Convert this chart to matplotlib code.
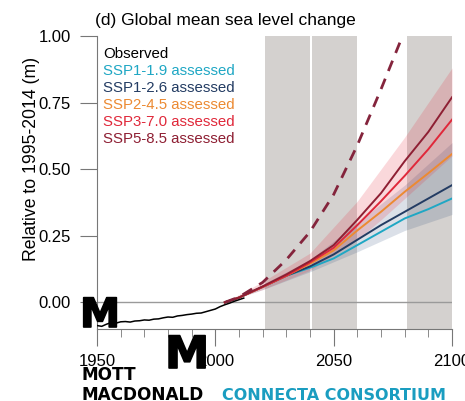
import numpy as np
import matplotlib.pyplot as plt
import matplotlib.patheffects as pe

# observed GMSL (m, relative to 1995-2014)
obs_years = np.arange(1950, 2013, 2)
obs_vals = np.array([
    -0.087, -0.090, -0.082, -0.076, -0.078, -0.073, -0.072, -0.074, -0.070, -0.069,
    -0.066, -0.067, -0.063, -0.062, -0.058, -0.055, -0.056, -0.051, -0.049, -0.046,
    -0.044, -0.041, -0.040, -0.035, -0.030, -0.025, -0.016, -0.009, -0.003, 0.004,
    0.010, 0.016,
])

# assessed projections (medians)
proj_years = np.array([2004, 2010, 2020, 2030, 2040, 2050, 2060, 2070, 2080, 2090, 2100])
ssp119 = np.array([0, 0.018, 0.058, 0.10, 0.130, 0.165, 0.215, 0.265, 0.315, 0.350, 0.390])
ssp126 = np.array([0, 0.018, 0.058, 0.10, 0.135, 0.180, 0.235, 0.290, 0.340, 0.390, 0.440])
ssp245 = np.array([0, 0.018, 0.058, 0.10, 0.145, 0.195, 0.270, 0.340, 0.415, 0.485, 0.557])
ssp370 = np.array([0, 0.018, 0.058, 0.10, 0.150, 0.205, 0.290, 0.380, 0.475, 0.575, 0.686])
ssp585 = np.array([0, 0.018, 0.060, 0.105, 0.155, 0.215, 0.310, 0.410, 0.530, 0.640, 0.770])

# likely ranges
band_years = np.array([2004, 2020, 2040, 2060, 2070, 2080, 2090, 2100])
ssp126_lo = np.array([0, 0.048, 0.115, 0.190, 0.230, 0.270, 0.300, 0.330])
ssp126_hi = np.array([0, 0.068, 0.160, 0.300, 0.370, 0.440, 0.520, 0.600])
ssp370_lo = np.array([0, 0.048, 0.120, 0.235, 0.310, 0.390, 0.470, 0.550])
ssp370_hi = np.array([0, 0.078, 0.185, 0.380, 0.500, 0.620, 0.750, 0.880])

# low-likelihood high-impact storyline
lihi_years = np.array([2004, 2010, 2020, 2030, 2040, 2050, 2060, 2070, 2080])
lihi_vals = np.array([0, 0.02, 0.075, 0.16, 0.265, 0.405, 0.59, 0.80, 1.02])

periods = [(2021, 2040), (2041, 2060), (2081, 2100)]

labels = ["Observed", "SSP1-1.9 assessed", "SSP1-2.6 assessed", "SSP2-4.5 assessed",
          "SSP3-7.0 assessed", "SSP5-8.5 assessed"]
colors = ["#000000", "#1fa7c4", "#233c63", "#ec8a32", "#e0283a", "#8e1f33"]

W, H = 465, 401
fig = plt.figure(figsize=(W / 100, H / 100), dpi=100)
ax = fig.add_axes([97 / W, 1 - 329 / H, (452 - 97) / W, (329 - 36) / H])
font = "Liberation Sans"

for a, b in periods:
    ax.axvspan(a, b, color="#d4d1cf", lw=0, zorder=0)
ax.axhline(0, color="#9a9a9a", lw=1, zorder=1)

ax.fill_between(band_years, ssp126_lo, ssp126_hi, color="#2a4a78", alpha=0.17, lw=0, zorder=2)
ax.fill_between(band_years, ssp370_lo, ssp370_hi, color="#e8283a", alpha=0.18, lw=0, zorder=2)

series = [ssp119, ssp126, ssp245, ssp370, ssp585]
for vals, c in zip(series, colors[1:]):
    ax.plot(proj_years, vals, color=c, lw=1.4, zorder=3)
ax.plot(lihi_years, lihi_vals, color="#84243c", lw=2, ls=(0, (4, 3)), zorder=3)
ax.plot(obs_years, obs_vals, color="black", lw=1.1, zorder=4)

ax.set_xlim(1950, 2100)
ax.set_ylim(-0.1, 1.0)
for s in ["top", "right"]:
    ax.spines[s].set_visible(False)
for s in ["left", "bottom"]:
    ax.spines[s].set_color("#777777")
ax.set_xticks([1950, 2000, 2050, 2100])
ax.set_xticks(np.arange(1960, 2100, 10), minor=True)
ax.set_yticks([0, 0.25, 0.5, 0.75, 1.0])
ax.set_yticklabels(["0.00", "0.25", "0.50", "0.75", "1.00"])
ax.tick_params(axis="both", which="major", length=12, color="#777777", labelsize=12)
ax.tick_params(axis="y", which="major", pad=7)
ax.tick_params(axis="x", which="major", pad=6)
ax.tick_params(axis="x", which="minor", length=6, color="#777777")
for t in ax.get_xticklabels() + ax.get_yticklabels():
    t.set_fontfamily(font)
ax.set_ylabel("Relative to 1995-2014 (m)", fontsize=12.7, family=font)
ax.yaxis.set_label_coords(-0.16, 0.579)
ax.set_title("(d) Global mean sea level change", fontsize=12.5, family=font, loc="left",
             x=-0.005, pad=8)

for i, (lab, c) in enumerate(zip(labels, colors)):
    ax.text(0.018, 0.94 - i * 0.058, lab, color=c, fontsize=10.8, family=font,
            transform=ax.transAxes, va="center")

# watermark logos
logo = "DejaVu Sans"
heavy = [pe.withStroke(linewidth=1.2, foreground="black")]
fig.text(80 / W, 1 - 327 / H, "M", fontsize=29, weight="heavy", family=logo,
         va="baseline", zorder=10, path_effects=heavy)
fig.text(165 / W, 1 - 368 / H, "M", fontsize=32, weight="heavy", family=logo,
         va="baseline", zorder=10, path_effects=heavy)
fig.text(81 / W, 1 - 380 / H, "MOTT", fontsize=12.2, weight="bold", family=logo,
         va="baseline")
fig.text(81 / W, 1 - 400 / H, "MACDONALD", fontsize=12.2, weight="bold", family=logo,
         va="baseline")
fig.text(222 / W, 1 - 400 / H, "CONNECTA CONSORTIUM", fontsize=11.5, weight="bold",
         family=logo, color="#1a9dc0", va="baseline")

fig.savefig("out.png", dpi=100)
